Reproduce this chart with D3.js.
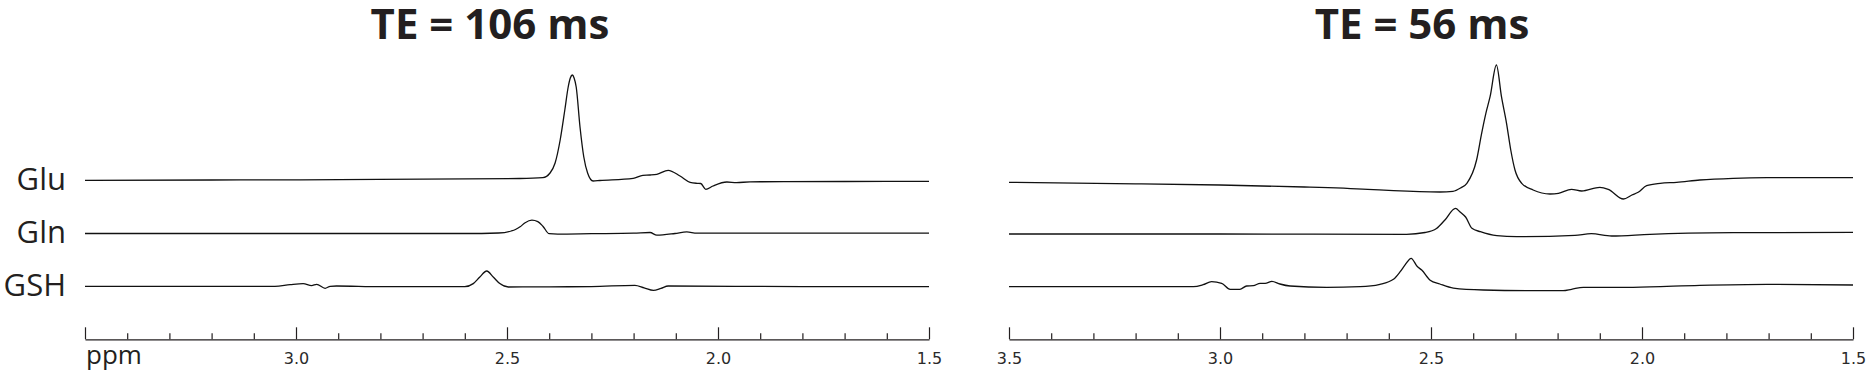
<!DOCTYPE html>
<html>
<head>
<meta charset="utf-8">
<script src="https://cdn.jsdelivr.net/npm/d3@7"></script>
<style>
  html, body { margin: 0; padding: 0; background: #fff; }
  svg { display: block; }
</style>
</head>
<body>
<svg id="chart" width="1866" height="372"></svg>
<script>
// metabolite rows, top to bottom
const metabolites = ["Glu", "Gln", "GSH"];
const titles = ["TE = 106 ms", "TE = 56 ms"];
const majorTicks = [3.5, 3.0, 2.5, 2.0, 1.5];
const minorTicks = [3.4, 3.3, 3.2, 3.1, 2.9, 2.8, 2.7, 2.6, 2.4, 2.3, 2.2, 2.1, 1.9, 1.8, 1.7, 1.6];

// [ppm, signal (a.u.)], TE = 106 ms
const glu106 = [
  [3.50, -0.3], [3.20, 0], [2.99, 0.2], [2.70, 0.8], [2.47, 1.5], [2.415, 2.3], [2.398, 7],
  [2.386, 17], [2.374, 40], [2.363, 70], [2.355, 93], [2.350, 102], [2.345, 105], [2.341, 102],
  [2.336, 93], [2.327, 53], [2.318, 23], [2.309, 7], [2.296, -1], [2.280, -0.5], [2.201, 1.7],
  [2.178, 4.7], [2.161, 5], [2.145, 5.7], [2.118, 9.7], [2.090, 4], [2.066, -2.3], [2.050, -3.3],
  [2.041, -3.5], [2.029, -9.3], [2.012, -6], [1.979, -2], [1.956, -2.7], [1.924, -1.8],
  [1.70, -1.5], [1.50, -1.3]
];
const gln106 = [
  [3.50, 0], [3.00, 0], [2.60, 0], [2.52, 0.5], [2.49, 2.5], [2.48, 4], [2.469, 6.7], [2.457, 10.8],
  [2.441, 13.3], [2.427, 11.8], [2.415, 7.3], [2.400, -0.2], [2.38, -0.6], [2.30, -0.2], [2.20, 0.3],
  [2.161, 1], [2.145, -1.7], [2.102, 0], [2.074, 1.6], [2.05, 0.3], [1.80, 0.3], [1.50, 0.3]
];
const gsh106 = [
  [3.50, 0], [3.20, 0], [3.05, 0], [3.014, 1.7], [2.983, 2.7], [2.963, 0.7], [2.951, 2], [2.931, -2],
  [2.919, 0], [2.904, 0.3], [2.80, -0.3], [2.60, -0.3], [2.58, 2.7], [2.565, 9], [2.548, 15.3],
  [2.532, 9], [2.517, 2.7], [2.497, -0.7], [2.40, -0.5], [2.30, -0.3], [2.197, 1], [2.175, -1.5],
  [2.153, -4], [2.135, -2], [2.118, 0.3], [1.80, -0.3], [1.50, -0.3]
];

// TE = 56 ms
const glu56 = [
  [3.50, -2.3], [3.20, -3.8], [3.00, -5], [2.80, -7], [2.65, -9.3], [2.589, -10.7], [2.479, -12],
  [2.448, -11.3], [2.430, -8], [2.415, -3.3], [2.392, 20], [2.380, 46.7], [2.370, 66.7], [2.360, 83.3],
  [2.345, 115], [2.333, 83.3], [2.321, 56.7], [2.311, 30], [2.301, 10], [2.285, -3.3], [2.258, -10],
  [2.218, -14], [2.198, -13.3], [2.167, -9.3], [2.143, -11], [2.100, -7.3], [2.080, -9.3],
  [2.044, -19], [2.024, -15], [2.009, -12.3], [1.989, -5.7], [1.957, -3.3], [1.918, -2.3],
  [1.863, 0], [1.784, 1.7], [1.704, 2.3], [1.50, 2.3]
];
const gln56 = [
  [3.50, -0.5], [3.00, -0.5], [2.558, -0.8], [2.514, 1], [2.487, 5], [2.467, 13.5], [2.442, 25.2],
  [2.431, 21.5], [2.418, 16.5], [2.403, 5.2], [2.383, 1.8], [2.344, -2.2], [2.297, -3.2],
  [2.159, -1.8], [2.120, -0.2], [2.072, -2.5], [1.981, -0.8], [1.784, 0.8], [1.50, 1.2]
];
const gsh56 = [
  [3.50, -0.4], [3.063, -0.4], [3.040, 1.6], [3.020, 4.6], [2.996, 3], [2.976, -3], [2.953, -3],
  [2.937, 0.3], [2.921, 0.6], [2.905, 3], [2.893, 3], [2.877, 5], [2.858, 2.3], [2.834, 0.3],
  [2.747, -1], [2.668, -0.4], [2.621, 2], [2.589, 7], [2.573, 14.6], [2.561, 21.6], [2.547, 28],
  [2.533, 20], [2.522, 16.3], [2.502, 6.1], [2.479, 2.3], [2.447, -1.8], [2.376, -3.7],
  [2.258, -4.4], [2.187, -4.4], [2.167, -3], [2.139, -1], [2.021, -1], [1.863, 1], [1.704, 2],
  [1.50, 1.3]
];

const spectra = [
  [glu106, gln106, gsh106],
  [glu56, gln56, gsh56]
];

const ink = "#231f20";
const svg = d3.select("#chart");

// layout
const panels = [
  { x0: 85, x1: 929, titleX: 490 },
  { x0: 1009, x1: 1853, titleX: 1422 }
];
const rowBase = [180, 233.5, 286.3];
const axisY = 339.3;

// labels on the left
svg.selectAll("text.metab")
  .data(metabolites)
  .join("text")
  .attr("class", "metab")
  .attr("x", 66)
  .attr("y", (d, i) => rowBase[i] + 9.5)
  .attr("text-anchor", "end")
  .style("font-family", "'Open Sans', sans-serif")
  .style("font-size", "31px")
  .style("fill", ink)
  .text(d => d);

panels.forEach(function (p, pi) {
  const x = d3.scaleLinear().domain([3.5, 1.5]).range([p.x0, p.x1]);
  const g = svg.append("g");

  g.append("text")
    .attr("x", p.titleX)
    .attr("y", 39.3)
    .attr("text-anchor", "middle")
    .style("font-family", "'Open Sans', sans-serif")
    .style("font-weight", "bold")
    .style("font-size", "42px")
    .style("fill", ink)
    .text(titles[pi]);

  spectra[pi].forEach(function (series, ri) {
    const y = d3.scaleLinear().domain([0, 100]).range([rowBase[ri], rowBase[ri] - 100]);
    const line = d3.line()
      .x(d => x(d[0]))
      .y(d => y(d[1]))
      .curve(d3.curveMonotoneX);
    g.append("path")
      .datum(series.slice().sort((a, b) => b[0] - a[0]))
      .attr("d", line)
      .attr("fill", "none")
      .attr("stroke", "#111")
      .attr("stroke-width", 1.3)
      .attr("stroke-linejoin", "round");
  });

  // minor ticks
  const minor = g.append("g")
    .attr("transform", "translate(0," + axisY + ")")
    .call(d3.axisBottom(x).tickValues(minorTicks).tickSizeInner(-6).tickSizeOuter(0).tickFormat(""));
  minor.select(".domain").remove();

  // major ticks + labels
  const major = g.append("g")
    .attr("transform", "translate(0," + axisY + ")")
    .call(d3.axisBottom(x)
      .tickValues(majorTicks)
      .tickSizeInner(-12)
      .tickSizeOuter(0)
      .tickPadding(13)
      .tickFormat(d => (pi === 0 && d === 3.5) ? "" : d3.format(".1f")(d)));

  g.selectAll(".tick line, .domain")
    .attr("stroke", ink)
    .attr("stroke-width", 1.2);
  major.selectAll(".tick text")
    .style("font-family", "'DejaVu Sans', sans-serif")
    .style("font-size", "16px")
    .style("fill", "#2a2a2a");

  if (pi === 0) {
    g.append("text")
      .attr("x", x(3.5) + 1)
      .attr("y", 364)
      .style("font-family", "'Open Sans', sans-serif")
      .style("font-size", "26px")
      .style("fill", ink)
      .text("ppm");
  }
});
</script>
</body>
</html>
